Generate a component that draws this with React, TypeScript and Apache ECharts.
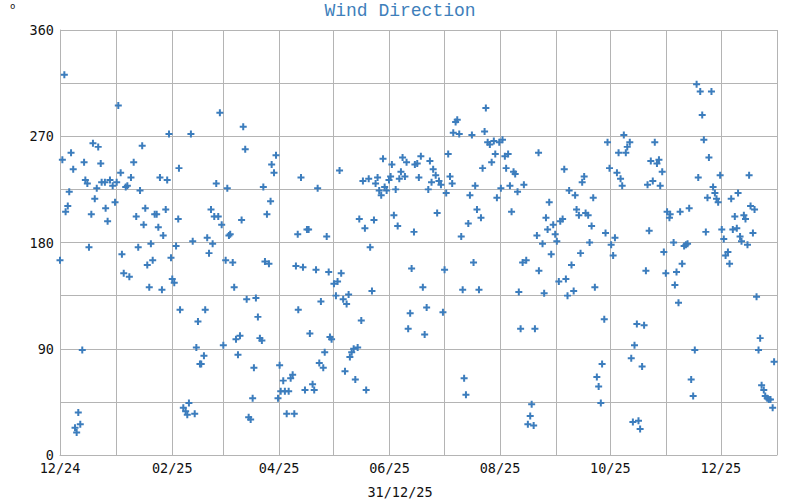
import React, { useEffect, useRef } from "react";
import * as echarts from "echarts";

// Day offsets are counted from 2024-12-01 (UTC); values are wind direction in degrees.
const START_DATE = Date.UTC(2024, 11, 1);
const END_DATE = Date.UTC(2026, 0, 1);
const DAY_MS = 86400000;

const TITLE = "Wind Direction";
const X_NAME = "31/12/25";
const Y_UNIT = "o";

const decJan: [number, number][] = [
  [0, 165], [1.3, 250], [2.4, 322], [3.1, 206], [4.3, 211], [5.1, 223], [6.1, 256], [7.3, 242],
  [8.3, 23], [9.2, 19], [10.1, 36], [11.2, 26], [12.3, 89], [13.3, 248], [14.0, 233], [15.1, 230],
  [16.0, 176], [17.3, 204], [18.2, 264], [19.2, 217], [20.3, 226], [21.1, 261], [22.5, 247], [23.0, 231],
  [24.8, 231], [25.2, 209], [26.3, 198], [27.6, 233], [29.1, 228], [30.4, 214], [31.3, 231], [32.2, 296],
  [33.5, 239], [34.2, 170], [35.2, 154], [36.3, 227], [37.2, 228], [38.3, 151], [39.2, 235], [40.7, 248],
  [42.1, 202], [43.2, 176], [44.2, 224], [45.4, 262], [46.2, 195], [47.1, 209], [48.2, 161], [49.3, 142],
  [50.2, 179], [51.2, 165], [52.3, 204], [53.4, 204], [54.3, 193], [55.2, 235], [56.3, 140], [57.0, 186],
  [58.4, 208], [59.2, 233], [60.2, 272], [61.3, 167],
];

const febApr: [number, number][] = [
  [62.0, 149], [63.1, 146], [64.1, 177], [65.3, 200], [65.7, 243], [66.3, 123], [68.1, 40], [69.4, 37],
  [70.3, 34], [71.2, 44], [72.3, 272], [73.3, 181], [74.4, 35], [75.3, 91], [76.2, 113], [77.3, 77],
  [78.0, 77], [79.5, 84], [80.2, 123], [81.3, 184], [82.3, 171], [83.4, 208], [84.3, 179], [85.2, 202],
  [86.3, 230], [87.4, 202], [88.3, 290], [89.3, 195], [90.2, 93], [91.5, 165], [92.4, 226], [93.3, 186],
  [94.0, 187], [95.4, 163], [96.2, 142], [97.2, 98], [98.3, 85], [99.4, 101], [100.3, 199], [101.2, 278],
  [102.3, 259], [103.1, 132], [104.2, 32], [105.3, 30], [106.4, 48], [107.1, 74], [108.2, 133], [109.3, 117],
  [110.4, 99], [111.5, 97], [112.3, 227], [113.2, 164], [114.3, 204], [115.4, 162], [116.3, 215], [116.9, 246],
  [118.2, 239], [119.3, 254], [120.4, 48], [121.3, 76], [121.9, 54], [123.3, 63], [124.2, 54], [125.2, 35],
  [126.3, 54], [127.4, 65], [128.5, 68], [129.4, 35], [130.3, 160],
];

const mayJun: [number, number][] = [
  [131.3, 187], [131.6, 123], [133.1, 235], [134.2, 159], [135.3, 55], [136.4, 191], [137.3, 191], [138.0, 103],
  [139.5, 60], [140.4, 55], [141.4, 157], [142.3, 226], [143.2, 78], [144.1, 130], [145.4, 74], [146.2, 87],
  [147.3, 185], [148.4, 155], [149.1, 100], [150.0, 98], [151.3, 145], [152.4, 135], [153.3, 147], [154.4, 241],
  [155.3, 154], [156.4, 132], [157.4, 71], [158.3, 128], [159.4, 136], [160.1, 83], [161.1, 87], [162.2, 90],
  [163.1, 64], [164.4, 91], [165.3, 200], [166.4, 114], [167.3, 232], [168.4, 192], [169.1, 55], [170.5, 234],
  [171.3, 176], [172.3, 139], [173.4, 199], [174.3, 230], [175.4, 235], [176.3, 224], [177.4, 220], [178.4, 251],
  [179.3, 227], [180.4, 224], [181.7, 233], [182.6, 236], [183.3, 246], [184.4, 203], [185.4, 225], [186.5, 194],
  [187.4, 234], [188.3, 240], [189.2, 252], [190.5, 236], [191.4, 248], [192.3, 107], [193.4, 120], [194.2, 158],
  [195.5, 189], [196.0, 246], [197.3, 247], [198.2, 235],
];

const julAug: [number, number][] = [
  [199.3, 253], [200.4, 142], [201.4, 102], [202.5, 125], [203.4, 225], [204.3, 249], [205.2, 231], [206.1, 242],
  [207.5, 237], [208.3, 205], [209.3, 232], [210.4, 229], [211.5, 121], [212.4, 157], [213.3, 222], [214.4, 255],
  [215.4, 236], [216.6, 230], [217.2, 273], [218.5, 282], [219.4, 284], [220.5, 272], [221.6, 185], [222.4, 140],
  [223.2, 65], [224.2, 51], [225.5, 196], [226.4, 220], [227.5, 271], [228.4, 163], [229.3, 228], [230.3, 208],
  [231.4, 140], [232.5, 201], [233.4, 243], [234.5, 274], [235.2, 294], [236.2, 265], [237.4, 263], [238.4, 248],
  [239.6, 266], [240.4, 255], [241.3, 218], [242.6, 265], [243.5, 226], [244.4, 267], [245.7, 253], [246.4, 243],
  [247.5, 255], [248.5, 228], [249.4, 206], [250.5, 240], [251.4, 238], [252.7, 223], [253.4, 138], [254.4, 107],
  [255.5, 163], [256.2, 229], [257.5, 165], [258.4, 26], [259.7, 33], [260.5, 43], [261.6, 25], [262.3, 107],
  [263.4, 186], [264.3, 256], [264.5, 156],
];

const sepOct: [number, number][] = [
  [266.5, 179], [267.4, 137], [268.4, 201], [269.3, 191], [270.2, 214], [271.3, 170], [272.4, 195], [273.5, 187],
  [274.4, 181], [275.5, 147], [276.3, 198], [277.6, 200], [278.5, 242], [279.4, 149], [280.3, 135], [281.2, 224],
  [282.5, 161], [283.7, 139], [284.5, 220], [285.3, 208], [286.6, 203], [287.5, 171], [288.4, 231], [289.5, 236],
  [290.3, 205], [291.7, 203], [292.5, 180], [293.6, 194], [294.5, 218], [295.4, 142], [296.5, 66], [297.5, 58],
  [298.7, 44], [299.4, 77], [300.6, 115], [301.3, 188], [302.4, 265], [303.5, 243], [304.4, 178], [305.5, 169],
  [306.5, 184], [307.6, 239], [308.5, 256], [309.6, 234], [310.5, 228], [311.4, 271], [312.5, 256], [313.3, 261],
  [314.7, 265], [315.5, 82], [316.4, 28], [317.3, 93], [318.6, 111], [319.5, 29], [320.4, 22], [321.5, 75],
  [322.6, 110], [323.6, 156], [324.5, 229], [325.4, 190], [326.3, 249], [327.4, 232], [328.5, 265], [329.7, 247],
  [330.8, 250],
];

const novDec: [number, number][] = [
  [331.5, 228], [332.6, 240], [333.5, 172], [334.6, 154], [335.3, 206], [336.6, 201], [337.0, 204], [338.9, 180],
  [339.6, 144], [340.5, 155], [341.6, 129], [342.5, 206], [343.6, 162], [344.7, 177], [345.7, 178], [346.6, 179],
  [347.5, 209], [348.6, 64], [349.7, 50], [350.6, 89], [351.6, 314], [352.5, 235], [353.6, 308], [354.7, 288],
  [355.6, 267], [356.7, 189], [357.6, 218], [358.4, 252], [359.8, 308], [360.7, 227], [361.7, 222], [362.6, 217],
  [363.5, 214], [364.6, 237], [365.5, 191], [366.6, 183], [367.6, 169], [368.9, 172], [369.8, 162], [370.7, 217],
  [371.6, 191], [372.7, 202], [373.8, 192], [374.5, 222], [375.6, 185], [376.4, 181], [377.7, 203], [378.6, 200],
  [379.7, 178], [380.6, 237], [381.4, 211], [382.7, 188], [383.6, 208], [384.7, 134], [385.8, 89], [386.7, 99],
  [387.5, 59], [388.7, 55], [389.5, 50], [390.6, 48], [391.5, 47], [392.4, 47], [393.6, 40], [394.4, 79],
];

const Y_TICK_LABELS = [0, 90, 180, 270, 360];

const PLUS = "path://M5,0H9V5H14V9H9V14H5V9H0V5H5Z";

export default function App() {
  const ref = useRef<HTMLDivElement>(null);
  useEffect(() => {
    if (!ref.current) return;
    const chart = echarts.init(ref.current, undefined, { renderer: "svg" });
    const all = [...decJan, ...febApr, ...mayJun, ...julAug, ...sepOct, ...novDec];
    const data = all.map(([d, v]) => [START_DATE + d * DAY_MS, v]);
    const pad = (n: number) => (n < 10 ? "0" + n : "" + n);
    const mono = "DejaVu Sans Mono";
    chart.setOption({
      animation: false,
      useUTC: true,
      backgroundColor: "#ffffff",
      title: {
        text: TITLE,
        left: "center",
        top: -3,
        textStyle: { fontFamily: "Liberation Mono", fontSize: 18, fontWeight: "normal", color: "#3f7fbb" },
      },
      grid: { left: 60, right: 23, top: 30, bottom: 45, containLabel: false },
      xAxis: {
        type: "time",
        min: START_DATE,
        max: END_DATE,
        minInterval: 28 * DAY_MS,
        maxInterval: 31 * DAY_MS,
        axisLine: { show: true, lineStyle: { color: "#b4b4b4", width: 1 } },
        axisTick: { show: false },
        splitLine: { show: true, lineStyle: { color: "#b4b4b4", width: 1 } },
        axisLabel: {
          margin: 6,
          fontFamily: mono,
          fontSize: 13.5,
          lineHeight: 14,
          color: "#111",
          hideOverlap: false,
          formatter: (val: number) => {
            const dt = new Date(val);
            const m = dt.getUTCMonth() + 1;
            if (m % 2 === 1) return "";
            return pad(m) + "/" + pad(dt.getUTCFullYear() % 100);
          },
        },
      },
      yAxis: {
        type: "value",
        min: 0,
        max: 360,
        interval: 45,
        axisLine: { show: true, lineStyle: { color: "#b4b4b4", width: 1 } },
        axisTick: { show: false },
        splitLine: { show: true, lineStyle: { color: "#b4b4b4", width: 1 } },
        axisLabel: {
          margin: 6,
          fontFamily: mono,
          fontSize: 13.5,
          lineHeight: 11,
          color: "#111",
          formatter: (v: number) => (Y_TICK_LABELS.indexOf(v) >= 0 ? String(v) : ""),
        },
      },
      graphic: [
        {
          type: "text",
          left: "center",
          top: 485,
          style: { text: X_NAME, font: `13.5px ${mono}`, fill: "#111" },
        },
        {
          type: "text",
          x: 10,
          y: 1,
          style: { text: Y_UNIT, font: `9px ${mono}`, fill: "#111" },
        },
      ],
      series: [
        {
          type: "scatter",
          data,
          symbol: PLUS,
          symbolSize: 7,
          itemStyle: { color: "#3c7dbd", opacity: 1 },
          emphasis: { disabled: true },
        },
      ],
    });
    return () => chart.dispose();
  }, []);
  return (
    <div
      ref={ref}
      style={{ position: "absolute", left: 0, top: 0, width: 800, height: 500 }}
    />
  );
}
